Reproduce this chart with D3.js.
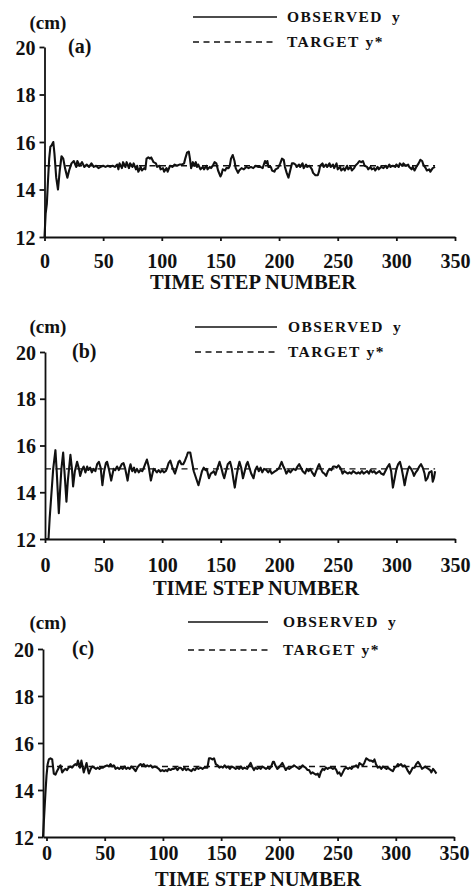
<!DOCTYPE html>
<html>
<head lang="en">
    <meta charset="utf-8">
    <title>Observed y vs target y*</title>
    <style type="text/css">
        body {
            margin: 0;
            background-color: #fff;
        }

        svg text {
            font-family: "Liberation Serif", "Times New Roman", serif;
            font-weight: bold;
            fill: #111;
        }

        .axis path,
        .axis line {
            stroke: #111;
            stroke-width: 1.8;
            fill: none;
        }

        .axis text {
            font-size: 20px;
        }

        .observed {
            fill: none;
            stroke: #111;
            stroke-width: 2.1;
            stroke-linejoin: round;
        }

        .target {
            fill: none;
            stroke: #111;
            stroke-width: 1.3;
            stroke-dasharray: 6 4.5;
        }

        .legend-text {
            font-size: 15.5px;
            letter-spacing: 1.4px;
        }
    </style>
</head>
<body>

<script src="https://d3js.org/d3.v7.min.js"></script>
<script type="text/javascript">
    //tick values and texts
    var xTicks = [0, 50, 100, 150, 200, 250, 300, 350];
    var yTicks = [12, 14, 16, 18, 20];
    var xTitle = "TIME STEP NUMBER";
    var yUnit = "(cm)";
    var panelTags = ["(a)", "(b)", "(c)"];
    var legendNames = ["OBSERVED", "TARGET"];
    var legendSymbols = ["y", "y*"];

    //target y* (constant set point) over the run
    var targetSteps = [0, 333];
    var targetValues = [15, 15];

    //observed y, [time step, cm]
    var observedA = [[0,12.0],[1,13.0],[2,13.4],[3,14.4],[4,15.3],[5,15.8],[6,15.85],[7.5,16.0],[8.5,15.5],[10,14.5],[11.5,14.0],[13,14.8],[14.5,15.4],[16,15.3],[17.5,14.9],[19.5,14.5],[21,14.8],[23,15.1],
        [25,15.2],[27,14.95],[28,15.2],[30,15.0],[32,15.15],[34,14.95],[36,15.05],[38,14.95],[40,15.1],[42,14.95],[44,15.0],[46,14.9],[48,14.95],[50,15.0],[52,14.95],[54,15.0],[56,14.95],[58,15.0],[60,14.95],
        [62,15.05],[63,14.85],[64,15.1],[66,14.9],[67,15.15],[69,14.95],[70,15.15],[72,14.9],[73,15.1],[75,14.95],[76,15.1],[78,14.85],[79,15.0],[80,14.75],[82,14.95],[83,14.8],[85,14.9],[86,14.85],
        [87,15.3],[88.5,15.35],[90,15.3],[91,15.35],[93,15.15],[95,15.1],[96,14.95],[98,15.0],[99,14.85],[101,14.9],[102,14.75],[104,14.9],[105,14.75],[107,15.0],[109,14.95],[111,15.05],[113,15.0],
        [115,15.05],[117,15.05],[119,15.1],[120,15.3],[121.5,15.55],[123,15.6],[124,15.3],[125,14.9],[126.5,15.15],[128,15.0],[129,15.15],[130,14.95],[131,15.05],[133,14.85],[135,14.95],[136,14.85],
        [138,15.0],[139,14.85],[141,14.95],[142,14.9],[144,15.05],[145,15.15],[146.5,15.1],[148,14.8],[150,14.55],[151,14.65],[152,14.85],[154,14.8],[155,14.9],[157,14.9],[158,15.0],[159,15.3],
        [160.5,15.45],[162,15.2],[163,14.9],[165,14.7],[166,14.8],[168,14.9],[170,14.85],[172,14.95],[174,14.9],[176,14.95],[178,14.9],[180,15.0],[182,14.95],[184,14.95],[186,14.9],[188,15.2],
        [189,15.1],[190,15.2],[191,14.95],[193,14.95],[194,14.8],[196,14.75],[197,14.85],[199,14.9],[201,15.1],[202.5,15.3],[204,15.25],[205,14.95],[206.5,14.7],[208,14.5],[209.5,14.8],[211,15.1],
        [212.5,15.1],[214,15.05],[215,14.95],[217,15.05],[218,14.95],[220,15.1],[221,14.9],[223,15.05],[224,14.95],[226,15.0],[228,14.85],[229,14.7],[231,14.6],[233,14.6],[234,14.75],[235,15.0],
        [237,15.1],[238,14.95],[240,15.05],[241,14.95],[243,15.1],[244,14.95],[246,15.05],[247,14.9],[249,15.1],[250,14.85],[252,14.95],[253,14.8],[255,14.9],[256,14.8],[258,15.0],[259,14.85],
        [261,14.95],[262,14.8],[264,14.9],[265,15.0],[267,15.1],[268.5,15.2],[270,15.15],[271.5,15.2],[273,15.0],[275,14.95],[276,14.85],[278,14.95],[279,14.85],[281,14.9],[282,14.8],[284,14.95],
        [285,14.85],[287,14.95],[289,14.9],[291,15.0],[292,14.9],[294,15.05],[295,14.95],[297,15.0],[299,14.95],[300,15.05],[302,14.95],[303,15.1],[305,15.0],[306,15.1],[308,15.0],[310,15.05],
        [311,14.95],[313,14.85],[314,14.95],[315.5,14.8],[317,14.95],[319,15.1],[320.5,15.25],[322,15.2],[323,15.05],[325,14.9],[326,14.8],[328,14.85],[329,14.75],[331,14.9],[333,14.95]];

    var observedB = [[0,12.0],[3,12.0],[4,12.9],[6,14.3],[7,15.0],[8.9,15.8],[10,14.9],[11.8,13.1],[13,14.2],[14,15.0],[15.5,15.7],[17,14.6],[18.3,13.6],[19.5,14.5],[21.7,15.6],[23,15.0],[24,14.25],
        [25.5,14.9],[27.4,15.3],[29,15.0],[30,14.7],[31.5,14.95],[33,15.1],[34.5,14.85],[36,15.1],[37,14.95],[38.5,15.05],[40,14.85],[41.5,15.0],[43,14.9],[44.5,15.2],[46,15.3],[47.5,15.05],
        [49,14.3],[50.5,14.9],[52,15.25],[53,15.3],[54.5,15.0],[56.5,14.5],[58.6,15.0],[60,14.95],[61.5,15.1],[63,14.95],[64,15.05],[65.5,15.2],[67,15.25],[68.5,15.0],[70.5,14.5],[72,15.0],
        [73,15.2],[74.5,14.9],[76,15.05],[77,14.85],[78.5,15.0],[80,14.85],[81.5,14.95],[83,14.9],[84,15.0],[85.5,15.2],[87,15.4],[88.5,15.1],[90.4,14.5],[92.7,15.0],[94,14.95],[95.5,14.85],
        [97,14.95],[98.5,14.85],[100,14.95],[101.5,14.85],[103,14.9],[104,15.0],[105.5,15.25],[107,15.35],[108.5,15.1],[110,14.9],[111,14.8],[112.5,15.05],[114,15.3],[115,15.35],[116.5,15.2],
        [118,15.2],[119.5,15.35],[121,15.55],[122,15.7],[124,15.7],[125.5,15.3],[127,14.9],[129,14.6],[131,14.3],[132.5,14.6],[134,14.9],[135.5,15.05],[137,14.95],[138,15.0],[140,14.6],
        [141.5,14.8],[143,14.85],[144,14.9],[145.5,14.75],[147,15.0],[149,15.3],[150.5,15.05],[152,14.75],[153,14.6],[154.5,14.9],[156,15.2],[158,15.3],[159.5,15.0],[161,14.5],[162,14.2],
        [163.5,14.7],[165,15.1],[166,15.3],[167.5,15.05],[169,14.6],[170.5,14.9],[172,15.2],[173,15.3],[174.5,15.05],[176,14.8],[178,14.6],[179.5,14.95],[181,15.1],[182.5,14.9],[184,15.05],
        [185.5,14.85],[187,15.0],[189,14.95],[190.5,14.85],[192,14.95],[193.5,14.8],[195,14.85],[196.5,14.9],[198,14.95],[200,15.05],[202,15.3],[203.5,15.1],[205,14.95],[206,14.8],[208,14.95],
        [209.5,14.85],[211,14.95],[212,15.0],[214,14.95],[215.5,15.1],[217,15.2],[218.5,15.05],[220,14.9],[222,14.8],[223.5,15.0],[225,14.9],[226.5,15.0],[228,14.85],[230,14.7],[231.5,14.9],
        [233,15.1],[234,15.2],[235.5,15.0],[237,14.85],[238.5,14.8],[240,14.7],[241.5,14.9],[243,15.0],[244.5,14.95],[246,15.1],[247.5,15.1],[249,15.05],[250.5,15.15],[252,15.05],[253,14.95],
        [254,14.8],[255.5,14.9],[257,14.85],[258.5,14.8],[260,14.85],[261.5,14.8],[263,14.9],[264.5,14.85],[266,14.8],[267.5,14.85],[269,14.8],[270.5,14.9],[272,14.8],[273.5,14.85],[275,14.9],
        [276.5,14.8],[278,14.95],[279.5,14.85],[281,14.9],[282.5,14.8],[284,14.85],[285.5,14.9],[287,14.8],[289,14.75],[290.5,14.9],[292,15.05],[294,15.2],[295.5,14.9],[297,14.2],[298.5,14.6],
        [300,15.0],[301.5,15.2],[303,15.3],[304.5,15.0],[306,14.6],[307,14.3],[308.5,14.7],[310,15.0],[311,15.1],[312.5,15.0],[314,14.85],[315,14.7],[316.5,14.85],[318,14.95],[319.5,15.1],
        [321,15.2],[322.5,15.05],[324,14.8],[325,14.5],[326.5,14.6],[328,14.85],[330,14.9],[331,14.45],[332,14.6],[333,14.9]];

    var observedC = [[-3,12.0],[-2,12.9],[-1,13.8],[0,14.6],[1,15.1],[2,15.3],[3.4,15.35],[4.9,15.3],[6.3,14.7],[7.7,14.65],[9,14.8],[10.6,14.95],[12,15.05],[13.5,14.75],[15,14.85],[16.3,14.9],
        [17.7,14.85],[19,14.95],[20.6,15.0],[22,14.95],[23.5,15.05],[24.9,15.1],[26,15.05],[27,15.25],[28.7,14.95],[30,15.25],[31,15.0],[32,14.75],[33.2,14.95],[34.4,15.15],[35.4,14.9],[36.4,14.7],
        [38,14.9],[39.3,15.0],[41,14.95],[42.5,14.9],[44,14.95],[45.5,14.9],[47,14.95],[48.5,14.95],[50,15.0],[52,15.05],[53.5,15.0],[55,15.1],[56.5,15.0],[57.8,15.05],[59.3,14.9],[61,14.95],
        [62.5,14.9],[64,14.95],[65.5,14.9],[67,15.0],[68.5,14.9],[70,14.95],[71.5,14.9],[73,15.0],[75,14.9],[76.5,14.8],[78,14.95],[79.5,15.05],[80.8,15.1],[82,15.05],[83.5,15.1],[85,15.0],
        [86.5,15.05],[88,15.0],[89.5,15.05],[91,14.95],[93,15.0],[95,14.95],[96.5,14.9],[98,14.8],[99.5,14.85],[101,14.8],[102.5,14.85],[103.7,14.8],[105,14.9],[106.5,14.85],[108,14.9],
        [109.4,14.9],[111,14.95],[112.5,14.85],[114,14.95],[115.2,14.95],[117,14.85],[118.5,14.95],[120,14.85],[121.5,14.9],[123,14.85],[124.5,14.8],[126,14.9],[127.5,14.85],[129,14.95],
        [130.5,14.9],[132.4,14.95],[134,14.9],[135.5,14.95],[137,14.95],[138.2,14.95],[139.6,15.35],[141,15.35],[142.5,15.3],[143.9,15.35],[145.4,15.1],[147,15.05],[148.5,14.95],[150,15.0],
        [151.5,14.95],[153,15.05],[154.5,14.95],[156,15.0],[157.5,14.9],[159,15.0],[161,14.95],[162.5,14.9],[164,14.95],[165.5,14.9],[167,15.0],[168.5,14.9],[170,14.95],[172.4,14.9],[173.5,15.0],
        [175.3,15.15],[176.5,15.0],[178.2,14.85],[179.5,14.95],[181,14.9],[182.5,14.95],[184,14.9],[185.5,15.0],[187,14.95],[188.5,14.9],[190,14.95],[191.5,14.9],[193,15.0],[194.5,15.2],
        [195.4,15.2],[196.5,15.05],[198.3,14.9],[199.5,14.95],[201,15.05],[202.6,15.15],[204,15.0],[205.5,14.85],[207,14.95],[208.5,14.9],[210,14.95],[211.5,15.0],[212.6,15.05],[214,15.0],
        [215.5,14.95],[217,14.9],[218.5,14.95],[219.9,15.05],[221,15.0],[222.5,14.95],[224.2,14.85],[225.5,14.85],[227.1,14.7],[228.5,14.75],[230,14.7],[231.4,14.65],[233,14.7],[234.3,14.55],
        [235.5,14.75],[237.2,14.9],[238.5,14.85],[240,14.95],[241.5,14.9],[243,14.95],[244.4,14.95],[246,14.9],[247.5,14.95],[249,14.85],[250.1,14.7],[251.5,14.75],[253,14.6],[254.5,14.75],
        [256,14.9],[257.5,14.95],[259,14.9],[260.5,14.95],[262,14.9],[263.5,15.0],[264.5,15.0],[266,15.05],[267.5,14.95],[268.8,15.15],[270,15.1],[271.7,15.05],[273,15.15],[274.6,15.35],
        [276,15.3],[277.5,15.25],[278.9,15.25],[280.5,15.2],[281.7,15.3],[283,15.1],[284.6,14.95],[286,15.0],[287.5,14.9],[289,15.0],[290.5,14.95],[292,14.9],[293.2,14.95],[294.5,14.9],
        [296,14.85],[297.5,14.8],[299,14.95],[300.5,15.0],[301.8,15.1],[303,15.05],[304.5,15.1],[306,15.0],[307.6,15.05],[309,14.95],[310.5,14.8],[311.9,14.7],[313,14.8],[314.5,14.95],
        [316.2,14.95],[317.5,15.1],[319.1,15.2],[320.5,15.1],[322.5,14.9],[324,14.95],[325.3,15.0],[326.3,14.95],[328,14.9],[329.5,14.85],[330.6,14.75],[332,14.9],[333.5,14.8],[334.9,14.7]];

    var observedSeries = [observedA, observedB, observedC];

    //where each of the three panels sits on the page (pixels)
    var layout = [
        {xStart: 0,  left: 44.5, right: 455, top: 47,  bottom: 237, labelPad: 13, titleX: 253, titleY: 289,
         unitY: 29,  tagX: 68, tagY: 53,  legX1: 193, legX2: 277, legY1: 17,  legY2: 42,  legTx: 287},
        {xStart: 0,  left: 45,   right: 455, top: 352, bottom: 539, labelPad: 15, titleX: 256, titleY: 595,
         unitY: 333, tagX: 72, tagY: 358, legX1: 195, legX2: 277, legY1: 327, legY2: 352, legTx: 288},
        {xStart: -3, left: 43,   right: 454, top: 649, bottom: 837, labelPad: 5,  titleX: 258, titleY: 886,
         unitY: 629, tagX: 72, tagY: 655, legX1: 188, legX2: 268, legY1: 622, legY2: 650, legTx: 283}
    ];

    //创建SVG
    var svg = d3.select("body")
        .append("svg")
        .attr("width", 471)
        .attr("height", 895);

    layout.forEach(function (p, i) {
        var x = d3.scaleLinear()
            .domain([p.xStart, 350])
            .range([p.left, p.right]);

        var y = d3.scaleLinear()
            .domain([12, 20])
            .range([p.bottom, p.top]);

        var g = svg.append("g");

        //y axis
        g.append("g")
            .attr("class", "axis")
            .attr("transform", "translate(" + p.left + ",0)")
            .call(d3.axisLeft(y).tickValues(yTicks).tickSize(5).tickSizeOuter(0).tickPadding(4))
            .selectAll("text")
            .attr("dy", "0.36em");

        //x axis
        g.append("g")
            .attr("class", "axis")
            .attr("transform", "translate(0," + p.bottom + ")")
            .call(d3.axisBottom(x).tickValues(xTicks).tickSize(4).tickSizeOuter(0).tickPadding(p.labelPad));

        g.selectAll(".axis .domain").attr("stroke-width", 2);

        //target y* (dashed)
        var line = d3.line()
            .x(function (d) { return x(d[0]); })
            .y(function (d) { return y(d[1]); });

        g.append("path")
            .attr("class", "target")
            .attr("d", line(d3.zip(targetSteps, targetValues)));

        //observed y
        g.append("path")
            .attr("class", "observed")
            .attr("d", line(observedSeries[i]));

        //texts
        g.append("text")
            .attr("x", p.titleX)
            .attr("y", p.titleY)
            .attr("text-anchor", "middle")
            .style("font-size", "20.5px")
            .text(xTitle);

        g.append("text")
            .attr("x", 48)
            .attr("y", p.unitY)
            .attr("text-anchor", "middle")
            .style("font-size", "19px")
            .text(yUnit);

        g.append("text")
            .attr("x", p.tagX)
            .attr("y", p.tagY)
            .style("font-size", "20px")
            .text(panelTags[i]);

        //legend
        var rows = [p.legY1, p.legY2];
        rows.forEach(function (ly, k) {
            g.append("line")
                .attr("x1", p.legX1)
                .attr("x2", p.legX2)
                .attr("y1", ly)
                .attr("y2", ly)
                .attr("stroke", "#111")
                .attr("stroke-width", k == 0 ? 1.6 : 1.3)
                .attr("stroke-dasharray", k == 0 ? null : "6 4.5");

            var t = g.append("text")
                .attr("class", "legend-text")
                .attr("x", p.legTx)
                .attr("y", ly + 5)
                .text(legendNames[k]);

            t.append("tspan")
                .attr("dx", k == 0 ? 9 : 7)
                .text(legendSymbols[k]);
        });
    });
</script>
</body>
</html>
